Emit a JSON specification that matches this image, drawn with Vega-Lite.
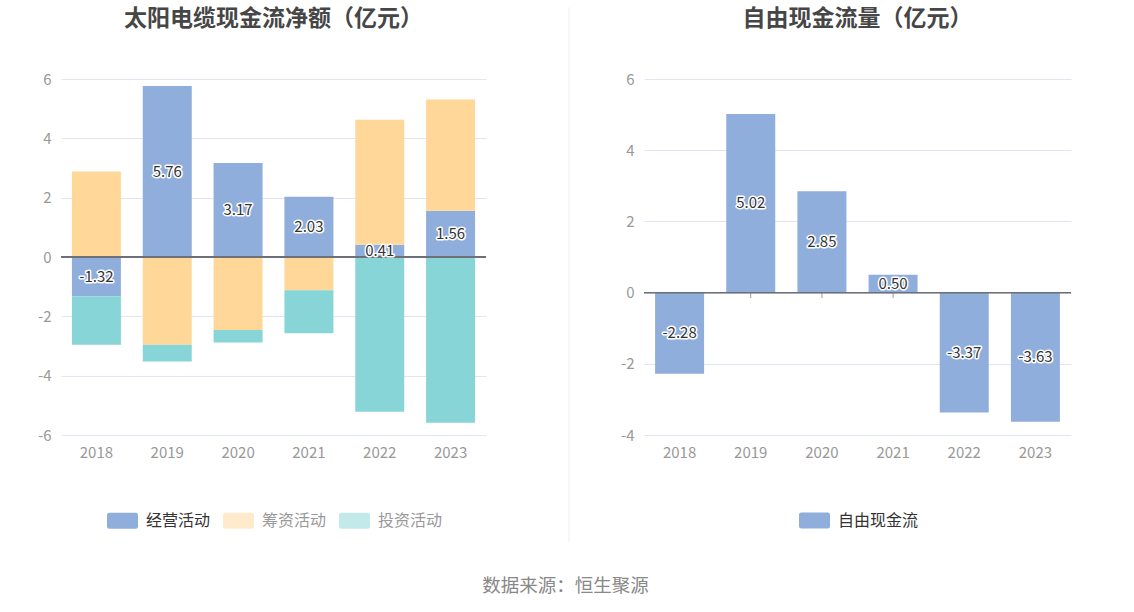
{
  "$schema": "https://vega.github.io/schema/vega-lite/v6.json",
  "padding": {"left": 37, "top": 6, "right": 5, "bottom": 5},
  "datasets": {
    "flow": [
      {"year": "2018", "type": "经营活动", "k": 1, "value": -1.32},
      {"year": "2018", "type": "筹资活动", "k": 2, "value": 2.88},
      {"year": "2018", "type": "投资活动", "k": 3, "value": -1.64},
      {"year": "2019", "type": "经营活动", "k": 1, "value": 5.76},
      {"year": "2019", "type": "筹资活动", "k": 2, "value": -2.96},
      {"year": "2019", "type": "投资活动", "k": 3, "value": -0.56},
      {"year": "2020", "type": "经营活动", "k": 1, "value": 3.17},
      {"year": "2020", "type": "筹资活动", "k": 2, "value": -2.46},
      {"year": "2020", "type": "投资活动", "k": 3, "value": -0.42},
      {"year": "2021", "type": "经营活动", "k": 1, "value": 2.03},
      {"year": "2021", "type": "筹资活动", "k": 2, "value": -1.12},
      {"year": "2021", "type": "投资活动", "k": 3, "value": -1.45},
      {"year": "2022", "type": "经营活动", "k": 1, "value": 0.41},
      {"year": "2022", "type": "筹资活动", "k": 2, "value": 4.22},
      {"year": "2022", "type": "投资活动", "k": 3, "value": -5.22},
      {"year": "2023", "type": "经营活动", "k": 1, "value": 1.56},
      {"year": "2023", "type": "筹资活动", "k": 2, "value": 3.75},
      {"year": "2023", "type": "投资活动", "k": 3, "value": -5.59}
    ],
    "fcf": [
      {"year": "2018", "name": "自由现金流", "value": -2.28},
      {"year": "2019", "name": "自由现金流", "value": 5.02},
      {"year": "2020", "name": "自由现金流", "value": 2.85},
      {"year": "2021", "name": "自由现金流", "value": 0.5},
      {"year": "2022", "name": "自由现金流", "value": -3.37},
      {"year": "2023", "name": "自由现金流", "value": -3.63}
    ]
  },
  "title": {
    "text": "数据来源：恒生聚源",
    "orient": "bottom",
    "anchor": "middle",
    "fontSize": 18.5,
    "fontWeight": "normal",
    "color": "#888888",
    "offset": 34,
    "dx": 11
  },
  "spacing": 20,
  "resolve": {"scale": {"color": "independent", "y": "independent", "x": "independent"}, "legend": {"color": "independent"}},
  "hconcat": [
    {
      "width": 425,
      "height": 356,
      "title": {"text": "太阳电缆现金流净额（亿元）", "frame": "group", "offset": 41},
      "data": {"name": "flow"},
      "layer": [
        {
          "mark": {"type": "bar", "width": 49},
          "encoding": {
            "x": {"field": "year", "type": "nominal", "axis": {"labelAngle": 0}},
            "y": {
              "field": "value",
              "type": "quantitative",
              "stack": "zero",
              "scale": {"domain": [-6, 6], "nice": false},
              "axis": {"values": [-6, -4, -2, 0, 2, 4, 6]}
            },
            "color": {
              "field": "type",
              "type": "nominal",
              "scale": {"domain": ["经营活动", "筹资活动", "投资活动"], "range": ["#8FAEDB", "#FFD899", "#88D5D8"]},
              "legend": {
                "orient": "none",
                "direction": "horizontal",
                "legendX": 46,
                "legendY": 426,
                "encode": {
                  "symbols": {"update": {
                    "fill": {"signal": "datum.value === '经营活动' ? '#8FAEDB' : datum.value === '筹资活动' ? '#FEEBCB' : '#C4EAEC'"},
                    "fillOpacity": {"signal": "datum.value === '经营活动' ? 1 : 0.5"}
                  }},
                  "labels": {"update": {"fill": {"signal": "datum.value === '经营活动' ? '#333333' : '#999999'"}}}
                }
              }
            },
            "order": {"field": "k", "type": "quantitative"}
          }
        },
        {
          "mark": {"type": "rule", "color": "#6E7079", "strokeWidth": 1},
          "encoding": {"y": {"datum": 0}}
        },
        {
          "transform": [{"filter": "datum.type === '经营活动'"}, {"calculate": "datum.value / 2", "as": "mid"}],
          "mark": {"type": "text", "fontSize": 15, "stroke": "#ffffff", "strokeWidth": 3, "strokeJoin": "round", "fill": "#ffffff"},
          "encoding": {
            "x": {"field": "year", "type": "nominal"},
            "y": {"field": "mid", "type": "quantitative"},
            "text": {"field": "value", "type": "quantitative", "format": ".2f"}
          }
        },
        {
          "transform": [{"filter": "datum.type === '经营活动'"}, {"calculate": "datum.value / 2", "as": "mid"}],
          "mark": {"type": "text", "fontSize": 15, "fill": "#333333"},
          "encoding": {
            "x": {"field": "year", "type": "nominal"},
            "y": {"field": "mid", "type": "quantitative"},
            "text": {"field": "value", "type": "quantitative", "format": ".2f"}
          }
        }
      ]
    },
    {
      "width": 93,
      "height": 463,
      "data": {"values": [{"a": 1}]},
      "mark": {"type": "rule", "color": "#EEEEEE", "strokeWidth": 1},
      "encoding": {
        "x": {"datum": 62, "type": "quantitative", "scale": {"domain": [0, 93]}, "axis": null},
        "y": {"datum": 0, "type": "quantitative", "scale": {"domain": [0, 1]}, "axis": null},
        "y2": {"datum": 1.155}
      }
    },
    {
      "width": 427,
      "height": 356,
      "title": {"text": "自由现金流量（亿元）", "frame": "group", "offset": 41},
      "data": {"name": "fcf"},
      "layer": [
        {
          "mark": {"type": "tick", "orient": "vertical", "color": "#6E7079", "size": 5, "thickness": 1, "yOffset": 3},
          "encoding": {
            "x": {"field": "year", "type": "nominal", "axis": {"labelAngle": 0, "labelPadding": 10, "ticks": false, "domain": false}},
            "y": {"datum": 0, "type": "quantitative"}
          }
        },
        {
          "mark": {"type": "bar", "width": 49},
          "encoding": {
            "x": {"field": "year", "type": "nominal", "axis": {"labelAngle": 0, "labelPadding": 10}},
            "y": {
              "field": "value",
              "type": "quantitative",
              "scale": {"domain": [-4, 6], "nice": false},
              "axis": {"values": [-4, -2, 0, 2, 4, 6]}
            },
            "color": {
              "field": "name",
              "type": "nominal",
              "scale": {"range": ["#8FAEDB"]},
              "legend": {
                "orient": "none",
                "direction": "horizontal",
                "legendX": 155,
                "legendY": 426,
                "labelColor": "#333333"
              }
            }
          }
        },
        {
          "mark": {"type": "rule", "color": "#6E7079", "strokeWidth": 1},
          "encoding": {"y": {"datum": 0}}
        },
        {
          "transform": [{"calculate": "datum.value / 2", "as": "mid"}],
          "mark": {"type": "text", "fontSize": 15, "stroke": "#ffffff", "strokeWidth": 3, "strokeJoin": "round", "fill": "#ffffff"},
          "encoding": {
            "x": {"field": "year", "type": "nominal"},
            "y": {"field": "mid", "type": "quantitative"},
            "text": {"field": "value", "type": "quantitative", "format": ".2f"}
          }
        },
        {
          "transform": [{"calculate": "datum.value / 2", "as": "mid"}],
          "mark": {"type": "text", "fontSize": 15, "fill": "#333333"},
          "encoding": {
            "x": {"field": "year", "type": "nominal"},
            "y": {"field": "mid", "type": "quantitative"},
            "text": {"field": "value", "type": "quantitative", "format": ".2f"}
          }
        }
      ]
    }
  ],
  "config": {
    "font": "Noto Sans CJK SC",
    "locale": {
      "number": {"decimal": ".", "thousands": ",", "grouping": [3], "currency": ["", ""], "minus": "-"}
    },
    "view": {"stroke": null},
    "title": {"fontSize": 23, "fontWeight": "bold", "color": "#464646", "anchor": "middle"},
    "axisY": {
      "grid": true,
      "gridColor": "#E0E6F1",
      "domain": false,
      "ticks": false,
      "labelColor": "#999999",
      "labelFontSize": 15,
      "labelPadding": 10,
      "title": null
    },
    "axisX": {
      "grid": false,
      "domain": false,
      "ticks": false,
      "labelColor": "#999999",
      "labelFontSize": 15,
      "labelPadding": 10,
      "title": null
    },
    "legend": {
      "title": null,
      "symbolType": "M-0.85,-0.52 L0.85,-0.52 Q1,-0.52 1,-0.37 L1,0.37 Q1,0.52 0.85,0.52 L-0.85,0.52 Q-1,0.52 -1,0.37 L-1,-0.37 Q-1,-0.52 -0.85,-0.52 Z",
      "symbolSize": 961,
      "symbolStrokeWidth": 0,
      "labelFontSize": 16,
      "labelColor": "#333333",
      "labelOffset": 8,
      "columnPadding": 12,
      "padding": 0
    }
  }
}
